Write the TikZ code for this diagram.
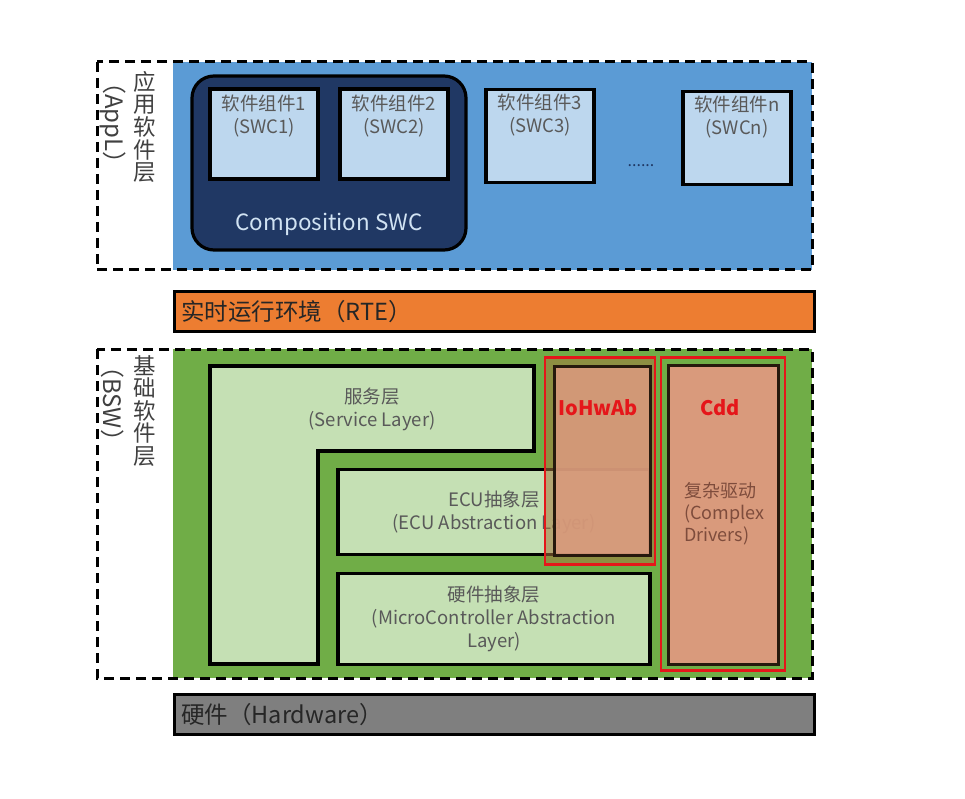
\documentclass[tikz,border=0pt]{standalone}
\usepackage{fontspec}
\setmainfont{Noto Sans CJK SC}
\usetikzlibrary{positioning}
\definecolor{applblue}{HTML}{5B9BD5}
\definecolor{compnavy}{HTML}{203864}
\definecolor{swcblue}{HTML}{BDD7EE}
\definecolor{rteorange}{HTML}{ED7D31}
\definecolor{bswgreen}{HTML}{70AD47}
\definecolor{lightgreen}{HTML}{C5E0B4}
\definecolor{salmon}{HTML}{D99A7C}
\definecolor{olive}{HTML}{A5783E}
\definecolor{hwgray}{HTML}{7F7F7F}
\definecolor{textgray}{HTML}{595959}
\definecolor{drvtext}{HTML}{7E4C3C}
\definecolor{redline}{HTML}{E5161A}

\begin{document}
\begin{tikzpicture}[x=1pt,y=-1pt,every node/.style={inner sep=0pt},
  box/.style={draw=black,line width=3.2pt},
  layerframe/.style={draw=black,line width=3pt,dash pattern=on 10pt off 6pt},
  swcbox/.style={box,fill=swcblue,minimum width=108,minimum height=90},
  boxtext/.style={text=textgray,align=center,font=\fontsize{18.5}{23}\selectfont},
  bar/.style={box,line width=2.6pt,minimum width=640,minimum height=40,anchor=north west},
  bartext/.style={text=black!85,font=\fontsize{23.5}{26}\selectfont},
  vlabel/.style={text=black!75,align=center,font=\fontsize{22.5}{22.6}\selectfont},
  vlabeleng/.style={text=black!75,font=\fontsize{24}{26}\selectfont,rotate=-90,anchor=west},
  redframe/.style={draw=redline,line width=2.6pt},
  drvbox/.style={draw=black!80!brown,line width=3pt},
  redtitle/.style={text=redline,font=\fontsize{20}{24}\selectfont\bfseries}]
  \useasboundingbox (0,0) rectangle (965,799);

  % application layer
  \fill[applblue] (173,62) rectangle (812,270);
  \node[box,fill=compnavy,rounded corners=22pt,minimum width=274,minimum height=174] (comp) at (329,163) {};
  \node[text=swcblue!70!white,font=\fontsize{22.4}{25}\selectfont] (comptext) at (329,224) {Composition SWC};
  \node[swcbox] (swc1) at (264,134) {};
  \node[swcbox] (swc2) at (394,134) {};
  \node[swcbox,minimum height=93] (swc3) at (540,136) {};
  \node[swcbox,minimum height=93] (swcn) at (737,138) {};
  \node[boxtext,below=7pt of swc1.north] (swc1text) {软件组件1\\(SWC1)};
  \node[boxtext,below=7pt of swc2.north] (swc2text) {软件组件2\\(SWC2)};
  \node[boxtext,below=6pt of swc3.north] (swc3text) {软件组件3\\(SWC3)};
  \node[boxtext,below=6pt of swcn.north] (swcntext) {软件组件n\\(SWCn)};
  \node[text=compnavy,font=\fontsize{16}{18}\selectfont] (dots) at (641,166) {......};
  \node[vlabel,anchor=north] (appltitle) at (145,71) {应\\用\\软\\件\\层};
  \node[vlabeleng] (appleng) at (113,70) {（AppL）};
  \draw[layerframe] (97,62) rectangle (812,270);

  % runtime environment
  \node[bar,fill=rteorange] (rte) at (173,290) {};
  \node[bartext,right=8pt of rte.west] (rtetext) {实时运行环境（RTE）};

  % basic software
  \fill[bswgreen] (173,349) rectangle (812,678);
  \draw[box,fill=lightgreen] (210,366) -- (534,366) -- (534,451) -- (318,451) -- (318,664) -- (210,664) -- cycle;
  \node[boxtext] (service) at (372,409) {服务层\\(Service Layer)};
  \node[box,fill=lightgreen,minimum width=312,minimum height=85,boxtext] (ecu) at (494,512) {ECU抽象层\\(ECU Abstraction Layer)};
  \node[box,fill=lightgreen,minimum width=312,minimum height=91,boxtext] (mcal) at (494,619) {硬件抽象层\\(MicroController Abstraction\\Layer)};
  \node[redframe,fill=olive,fill opacity=0.55,minimum width=110,minimum height=207] (iohwabframe) at (600,461) {};
  \node[drvbox,fill=salmon,fill opacity=0.9,minimum width=96,minimum height=189] (iohwab) at (602,461) {};
  \node[redtitle] (iohwabtext) at (598,408) {IoHwAb};
  \node[redframe,minimum width=124,minimum height=313] (cddframe) at (723,514) {};
  \node[drvbox,fill=salmon,minimum width=110,minimum height=299] (cdd) at (723,515) {};
  \node[redtitle] (cddtext) at (720,408) {Cdd};
  \node[text=drvtext,align=left,font=\fontsize{18}{22}\selectfont,anchor=north west] (cddbody) at (684,482) {复杂驱动\\(Complex\\Drivers)};
  \node[vlabel,anchor=north] (bswtitle) at (145,355) {基\\础\\软\\件\\层};
  \node[vlabeleng] (bsweng) at (113,354) {（BSW）};
  \draw[layerframe] (97,349) rectangle (812,678);

  % hardware
  \node[bar,fill=hwgray] (hw) at (173,693) {};
  \node[bartext,right=8pt of hw.west] (hwtext) {硬件（Hardware）};
\end{tikzpicture}
\end{document}
